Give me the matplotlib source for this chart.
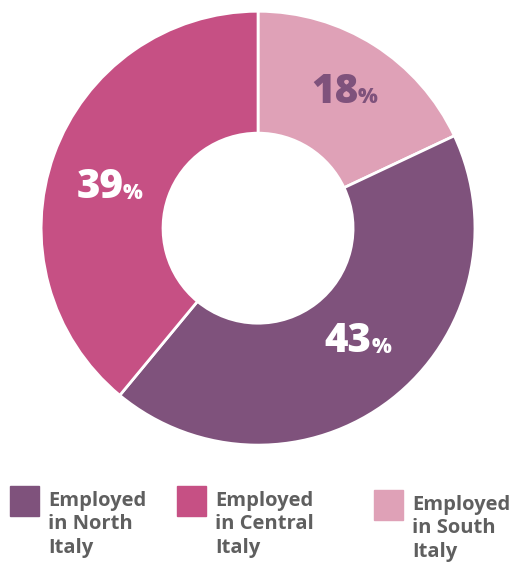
import numpy as np
import matplotlib
matplotlib.use("Agg")
from matplotlib import pyplot as plt
from matplotlib.patches import Rectangle

regions = ["South", "North", "Central"]
shares = [18, 43, 39]
colors = ["#dfa1b7", "#7f527c", "#c65084"]
label_colors = ["#7f527c", "white", "white"]

legend_labels = ["Employed\nin North\nItaly", "Employed\nin Central\nItaly", "Employed\nin South\nItaly"]
legend_colors = ["#7f527c", "#c65084", "#dfa1b7"]

plt.rcParams["font.family"] = ["Open Sans", "DejaVu Sans"]

fig = plt.figure(figsize=(5.12, 5.62), dpi=100)
ax = fig.add_axes([0.080, 0.208, 0.848, 0.772])
wedges, _ = ax.pie(shares, colors=colors, startangle=90, counterclock=False,
                   radius=1, wedgeprops=dict(width=0.562, edgecolor="white", linewidth=2))
ax.set_xlim(-1, 1)
ax.set_ylim(-1, 1)
ax.set_aspect("equal")
ax.axis("off")

# percentage labels in the ring, nudged a little by hand (points)
nudges = [(4, 3), (5, 7), (1, -9)]
for w, val, c, (nx, ny) in zip(wedges, shares, label_colors, nudges):
    ang = np.deg2rad((w.theta1 + w.theta2) / 2)
    x, y = 0.72 * np.cos(ang), 0.72 * np.sin(ang)
    ax.annotate(str(val), (x, y), xytext=(nx + 8, ny), textcoords="offset points",
                ha="right", va="center", fontsize=29, fontweight="heavy", color=c)
    ax.annotate("%", (x, y), xytext=(nx + 7.5, ny - 4), textcoords="offset points",
                ha="left", va="center", fontsize=15, fontweight="heavy", color=c)

# legend along the bottom
px = [(10, 486, 491), (177, 486, 491), (374, 490, 495)]
for (sx, sy, ty), lab, c in zip(px, legend_labels, legend_colors):
    fig.patches.append(Rectangle((sx / 512, 1 - (sy + 30) / 562), 29 / 512, 30 / 562,
                                 transform=fig.transFigure, color=c))
    fig.text((sx + 38) / 512, 1 - ty / 562, lab, ha="left", va="top",
             fontsize=14.5, fontweight="bold", color="#5f5f5f", linespacing=1.22)

fig.savefig("out.png", dpi=100)
